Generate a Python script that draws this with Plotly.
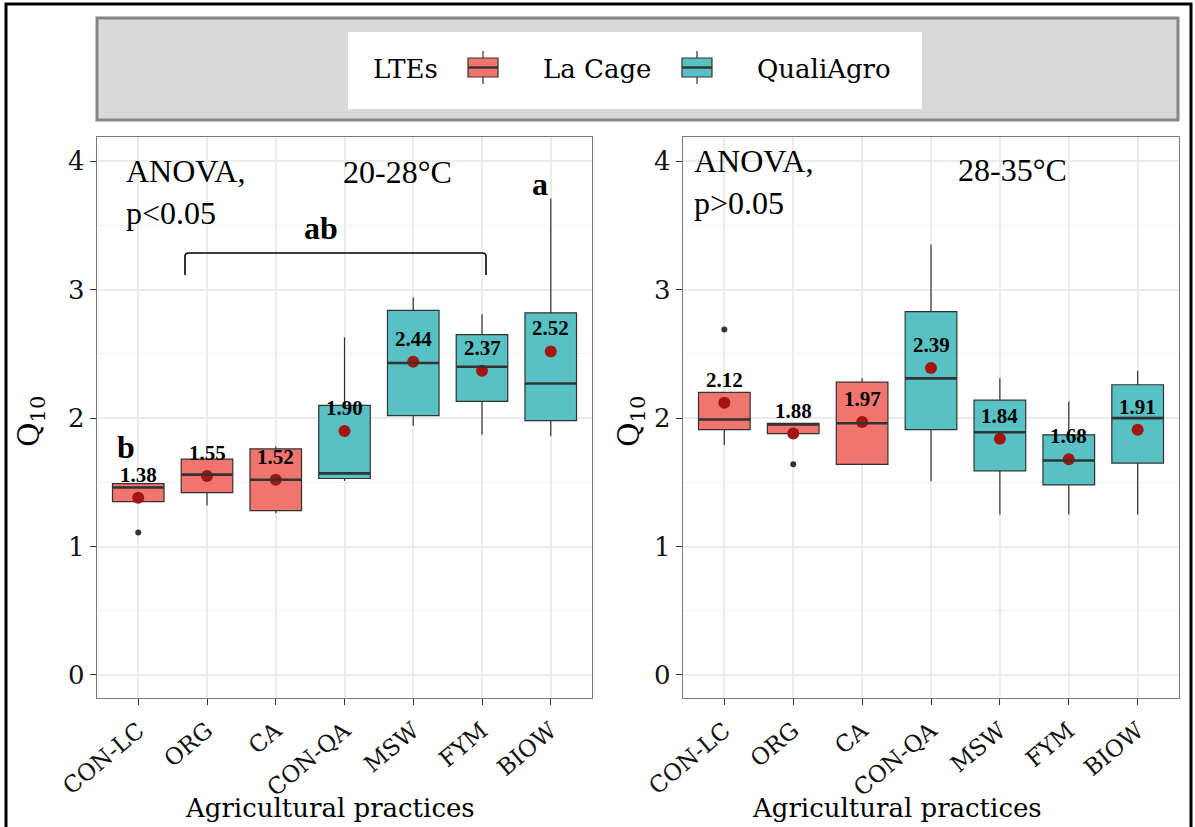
import plotly.graph_objects as go

W, H = 1195, 827

# ---------------- data ----------------
categories = ["CON-LC", "ORG", "CA", "CON-QA", "MSW", "FYM", "BIOW"]
lte_groups = ["La Cage", "La Cage", "La Cage", "QualiAgro", "QualiAgro", "QualiAgro", "QualiAgro"]

# Panel 1 : 20-28 °C
q1_a = [1.35, 1.42, 1.28, 1.53, 2.02, 2.13, 1.98]
med_a = [1.46, 1.56, 1.52, 1.57, 2.43, 2.40, 2.27]
q3_a = [1.49, 1.68, 1.76, 2.10, 2.84, 2.65, 2.82]
lo_a = [1.35, 1.32, 1.26, 1.51, 1.94, 1.87, 1.86]
hi_a = [1.49, 1.68, 1.78, 2.63, 2.94, 2.81, 3.71]
mean_a = [1.38, 1.55, 1.52, 1.90, 2.44, 2.37, 2.52]
out_a_x = ["CON-LC"]
out_a_y = [1.11]

# Panel 2 : 28-35 °C
q1_b = [1.91, 1.88, 1.64, 1.91, 1.59, 1.48, 1.65]
med_b = [1.99, 1.95, 1.96, 2.31, 1.89, 1.67, 2.00]
q3_b = [2.20, 1.96, 2.28, 2.83, 2.14, 1.87, 2.26]
lo_b = [1.79, 1.88, 1.64, 1.51, 1.25, 1.25, 1.25]
hi_b = [2.20, 1.96, 2.31, 3.35, 2.31, 2.13, 2.37]
mean_b = [2.12, 1.88, 1.97, 2.39, 1.84, 1.68, 1.91]
out_b_x = ["CON-LC", "ORG"]
out_b_y = [2.69, 1.64]

y_ticks = [0, 1, 2, 3, 4]

# ---------------- styling ----------------
colors = {"La Cage": "#F0756F", "QualiAgro": "#57C1C4"}
EDGE = "#333333"
MEAN_COL = "#A3160F"
GRID = "#EBEBEB"
BORDER = "#7a7a7a"
TYPE_FONT = "DejaVu Serif"
TIMES = "Liberation Serif"


def px(x):
    return x / W


def py(y):
    return 1 - y / H


fig = go.Figure()

panels = [
    ("x", "y", q1_a, med_a, q3_a, lo_a, hi_a, mean_a, out_a_x, out_a_y),
    ("x2", "y2", q1_b, med_b, q3_b, lo_b, hi_b, mean_b, out_b_x, out_b_y),
]

shapes = []
annotations = []

for xa, ya, q1, med, q3, lo, hi, mean, ox, oy in panels:
    for grp in ["La Cage", "QualiAgro"]:
        idx = [i for i, g in enumerate(lte_groups) if g == grp]
        fig.add_trace(go.Box(
            x=[categories[i] for i in idx],
            q1=[q1[i] for i in idx],
            median=[med[i] for i in idx],
            q3=[q3[i] for i in idx],
            lowerfence=[lo[i] for i in idx],
            upperfence=[hi[i] for i in idx],
            fillcolor=colors[grp],
            line=dict(color=EDGE, width=1.2),
            whiskerwidth=0,
            width=0.75,
            boxpoints=False,
            showlegend=False,
            hoverinfo="skip",
            xaxis=xa, yaxis=ya,
        ))
    # thicker median lines (ggplot fatten)
    for i, m in enumerate(med):
        shapes.append(dict(type="line", xref=xa, yref=ya,
                           x0=i - 0.375, x1=i + 0.375, y0=m, y1=m,
                           line=dict(color=EDGE, width=2.6)))
    # outliers
    fig.add_trace(go.Scatter(x=ox, y=oy, mode="markers",
                             marker=dict(color=EDGE, size=6),
                             showlegend=False, hoverinfo="skip",
                             xaxis=xa, yaxis=ya))
    # means
    fig.add_trace(go.Scatter(x=categories, y=mean, mode="markers",
                             marker=dict(color=MEAN_COL, size=12),
                             showlegend=False, hoverinfo="skip",
                             xaxis=xa, yaxis=ya))
    for c, m in zip(categories, mean):
        annotations.append(dict(xref=xa, yref=ya, x=c, y=m, yshift=23,
                                text=f"<b>{m:.2f}</b>", showarrow=False,
                                font=dict(family=TIMES, size=21, color="black")))

dom_y = [py(698), py(137)]
axis_common = dict(
    type="category", categoryorder="array", categoryarray=categories,
    range=[-0.6, 6.6], showgrid=True, gridcolor=GRID, gridwidth=1.5,
    ticks="outside", ticklen=6, tickwidth=1.3, tickcolor=EDGE,
    tickfont=dict(family=TYPE_FONT, size=23, color="#111"),
    tickangle=-40, ticklabelstandoff=3,
    showline=True, mirror=True, linecolor=BORDER, linewidth=1.3,
    zeroline=False, automargin=False,
)
yaxis_common = dict(
    range=[-0.18, 4.19], tickvals=y_ticks, showgrid=True, gridcolor=GRID, gridwidth=1.5,
    minor=dict(dtick=0.5, tick0=0, showgrid=True, gridcolor="#F0F0F0", gridwidth=1, ticks=""),
    ticks="outside", ticklen=6, tickwidth=1.3, tickcolor=EDGE,
    tickfont=dict(family=TYPE_FONT, size=26, color="#111"),
    showline=True, mirror=True, linecolor=BORDER, linewidth=1.3, zeroline=False,
    automargin=False,
)

fig.update_layout(
    width=W, height=H,
    margin=dict(l=0, r=0, t=0, b=0, autoexpand=False),
    paper_bgcolor="white", plot_bgcolor="white",
    xaxis=dict(domain=[px(97), px(592)], anchor="y", **axis_common),
    yaxis=dict(domain=dom_y, anchor="x", **yaxis_common),
    xaxis2=dict(domain=[px(683), px(1179)], anchor="y2", **axis_common),
    yaxis2=dict(domain=dom_y, anchor="x2", **yaxis_common),
    showlegend=False,
)

# ---------------- decorations (paper coords) ----------------
# outer frame
shapes.append(dict(type="rect", xref="paper", yref="paper",
                   x0=px(6), x1=px(1191), y0=py(4), y1=py(835),
                   line=dict(color="black", width=3), fillcolor="rgba(0,0,0,0)", layer="above"))
# legend background
shapes.append(dict(type="rect", xref="paper", yref="paper",
                   x0=px(97), x1=px(1178), y0=py(18), y1=py(120),
                   line=dict(color="#868686", width=3), fillcolor="#D9D9D9", layer="below"))
shapes.append(dict(type="rect", xref="paper", yref="paper",
                   x0=px(348), x1=px(922), y0=py(32), y1=py(109),
                   line=dict(width=0), fillcolor="white", layer="below"))
# legend keys
for grp, x0 in [("La Cage", 468), ("QualiAgro", 682)]:
    xc = x0 + 15
    shapes.append(dict(type="line", xref="paper", yref="paper",
                       x0=px(xc), x1=px(xc), y0=py(51), y1=py(84),
                       line=dict(color=EDGE, width=1.2)))
    shapes.append(dict(type="rect", xref="paper", yref="paper",
                       x0=px(x0), x1=px(x0 + 30), y0=py(58), y1=py(77),
                       line=dict(color=EDGE, width=1.2), fillcolor=colors[grp]))
    shapes.append(dict(type="line", xref="paper", yref="paper",
                       x0=px(x0), x1=px(x0 + 30), y0=py(67.5), y1=py(67.5),
                       line=dict(color=EDGE, width=2.4)))

for txt, x in [("LTEs", 371), ("La Cage", 541), ("QualiAgro", 755)]:
    annotations.append(dict(xref="paper", yref="paper", x=px(x), y=py(69),
                            xanchor="left", yanchor="middle", text=txt, showarrow=False,
                            font=dict(family=TYPE_FONT, size=26, color="black")))

# bracket for "ab"
shapes.append(dict(type="path", xref="paper", yref="paper",
                   path=(f"M {px(185)} {py(275)} L {px(185)} {py(256)} "
                         f"Q {px(185)} {py(253)} {px(189)} {py(253)} "
                         f"L {px(482)} {py(253)} Q {px(486)} {py(253)} {px(486)} {py(256)} "
                         f"L {px(486)} {py(275)}"),
                   line=dict(color="black", width=1.6)))

# panel texts
annotations += [
    dict(xref="paper", yref="paper", x=px(124), y=py(192), xanchor="left", yanchor="middle",
         align="left", text="ANOVA,<br>p&lt;0.05", showarrow=False,
         font=dict(family=TIMES, size=32, color="black")),
    dict(xref="paper", yref="paper", x=px(397), y=py(172), xanchor="center", yanchor="middle",
         text="20-28°C", showarrow=False, font=dict(family=TIMES, size=32, color="black")),
    dict(xref="paper", yref="paper", x=px(692), y=py(182), xanchor="left", yanchor="middle",
         align="left", text="ANOVA,<br>p&gt;0.05", showarrow=False,
         font=dict(family=TIMES, size=32, color="black")),
    dict(xref="paper", yref="paper", x=px(1012), y=py(170), xanchor="center", yanchor="middle",
         text="28-35°C", showarrow=False, font=dict(family=TIMES, size=32, color="black")),
    dict(xref="paper", yref="paper", x=px(126), y=py(447), xanchor="center", yanchor="middle",
         text="<b>b</b>", showarrow=False, font=dict(family=TIMES, size=32, color="black")),
    dict(xref="paper", yref="paper", x=px(321), y=py(228), xanchor="center", yanchor="middle",
         text="<b>ab</b>", showarrow=False, font=dict(family=TIMES, size=32, color="black")),
    dict(xref="paper", yref="paper", x=px(540), y=py(184), xanchor="center", yanchor="middle",
         text="<b>a</b>", showarrow=False, font=dict(family=TIMES, size=32, color="black")),
]

# axis titles
for xc in [330, 897]:
    annotations.append(dict(xref="paper", yref="paper", x=px(xc), y=py(808),
                            xanchor="center", yanchor="middle", text="Agricultural practices",
                            showarrow=False, font=dict(family=TYPE_FONT, size=26, color="black")))
for xc in [30, 630]:
    annotations.append(dict(xref="paper", yref="paper", x=px(xc), y=py(422),
                            xanchor="center", yanchor="middle", text="Q<sub>10</sub>",
                            textangle=-90, showarrow=False,
                            font=dict(family=TYPE_FONT, size=30, color="black")))

fig.update_layout(shapes=shapes, annotations=annotations)
fig.write_html("out.html")
